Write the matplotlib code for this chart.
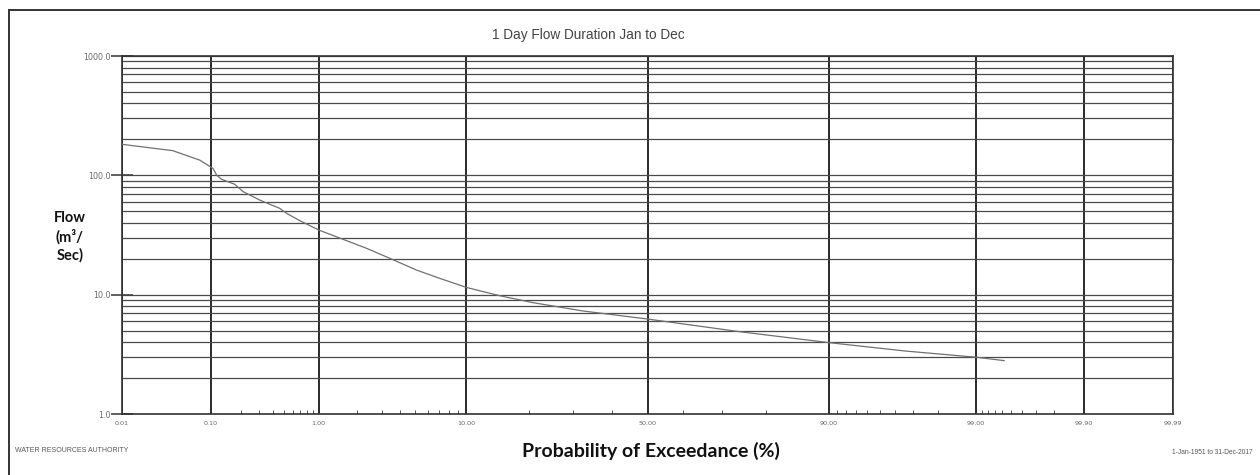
import numpy as np
import matplotlib
matplotlib.use("Agg")
import matplotlib.pyplot as plt
from matplotlib.lines import Line2D
from statistics import NormalDist

# ---- data ----
exceed_pct = [0.01, 0.039, 0.0767, 0.1056, 0.1144, 0.1285, 0.1745, 0.2105, 0.303,
              0.462, 0.531, 0.693, 1.0, 1.56, 2.33, 3.4, 5.09, 7.07, 10.0, 14.8,
              20.9, 32.4, 50.0, 74.2, 90.1, 96.6, 99.0, 99.42]
flow = [182, 161, 134, 114, 100.7, 92.7, 84.1, 73.0, 62.1,
        52.9, 48.1, 41.7, 34.8, 29.1, 24.5, 20.2, 16.1, 13.7, 11.5, 9.79,
        8.57, 7.30, 6.25, 4.90, 3.96, 3.37, 2.99, 2.80]
x_major = [0.01, 0.10, 1.00, 10.00, 50.00, 90.00, 99.00, 99.90, 99.99]
x_labels = ["0.01", "0.10", "1.00", "10.00", "50.00", "90.00", "99.00", "99.90", "99.99"]
x_minor = [0.2, 0.3, 0.4, 0.5, 0.6, 0.7, 0.8, 0.9,
           2, 3, 4, 5, 6, 7, 8, 9, 20, 30, 40, 60, 70, 80,
           91, 92, 93, 94, 95, 96, 97, 98,
           99.1, 99.2, 99.3, 99.4, 99.5, 99.6, 99.7, 99.8]
y_major = [1, 10, 100, 1000]
y_labels = ["1.0", "10.0", "100.0", "1000.0"]
title = "1 Day Flow Duration Jan to Dec"
xlabel = "Probability of Exceedance (%)"
ylabel = "Flow\n(m\u00b3/\nSec)"
left_note = "WATER RESOURCES AUTHORITY"
right_note = "1-Jan-1951 to 31-Dec-2017"

_nd = NormalDist()
_ppf = np.vectorize(_nd.inv_cdf, otypes=[float])
_cdf = np.vectorize(_nd.cdf, otypes=[float])


def fwd(p):
    p = np.clip(np.asarray(p, dtype=float) / 100.0, 1e-12, 1 - 1e-12)
    return _ppf(p)


def inv(z):
    z = np.asarray(z, dtype=float)
    return _cdf(z) * 100.0


W, H = 1260, 475
fig = plt.figure(figsize=(W / 100, H / 100), dpi=100)
ax = fig.add_axes([122 / W, 1 - 414 / H, (1173 - 122) / W, (414 - 56) / H])

ax.set_xscale("function", functions=(fwd, inv))
ax.set_yscale("log")
ax.set_xlim(0.01, 99.99)
ax.set_ylim(1, 1000)

ax.plot(exceed_pct, flow, color="#707070", lw=0.9, zorder=3)

ax.set_xticks(x_major)
ax.set_xticklabels(x_labels)
ax.set_xticks(x_minor, minor=True)
ax.set_xticklabels([], minor=True)
ax.set_yticks(y_major)
ax.set_yticklabels(y_labels)
ax.set_yticks([m * d for d in (1, 10, 100) for m in range(2, 10)], minor=True)
ax.set_yticklabels([], minor=True)

ax.grid(True, axis="x", which="major", color="#2a2a2a", lw=1.4)
ax.grid(True, axis="y", which="both", color="#4a4a4a", lw=0.9)

ax.tick_params(axis="x", which="major", direction="in", length=0, labelsize=4.6,
               labelcolor="#666666", pad=5)
ax.tick_params(axis="x", which="minor", direction="in", length=3, width=0.7,
               color="#555555")
ax.tick_params(axis="y", which="major", direction="inout", length=16, width=1.2,
               color="#444444", labelsize=5.8, labelcolor="#6a6a6a", pad=0.5)
ax.tick_params(axis="y", which="minor", length=0)
for s in ax.spines.values():
    s.set_color("#333333")
    s.set_linewidth(1.2)

fig.text(588 / W, 1 - 35 / H, title, ha="center", va="center",
         fontsize=9.8, color="#444444", family="Liberation Sans")
fig.text(651 / W, 1 - 451 / H, xlabel, ha="center", va="center",
         fontsize=14, fontweight="bold", family="Lato", color="#111111")
fig.text(70 / W, 1 - 237 / H, ylabel, ha="center", va="center",
         fontsize=10.5, fontweight="bold", family="Lato", color="#111111",
         linespacing=1.3, multialignment="center")
fig.text(15 / W, 1 - 451 / H, left_note, ha="left", va="center",
         fontsize=5, color="#555555", family="Liberation Sans")
fig.text(1172 / W, 1 - 452 / H, right_note, ha="left", va="center",
         fontsize=4.8, color="#555555", family="Liberation Sans")

# outer frame (cropped on right and bottom in the reference)
fig.add_artist(Line2D([8.5 / W, 1.0], [1 - 9.5 / H, 1 - 9.5 / H],
                      transform=fig.transFigure, color="#333333", lw=1.4))
fig.add_artist(Line2D([8.5 / W, 8.5 / W], [0.0, 1 - 9.5 / H],
                      transform=fig.transFigure, color="#333333", lw=1.4))

fig.savefig("out.png", dpi=100)
